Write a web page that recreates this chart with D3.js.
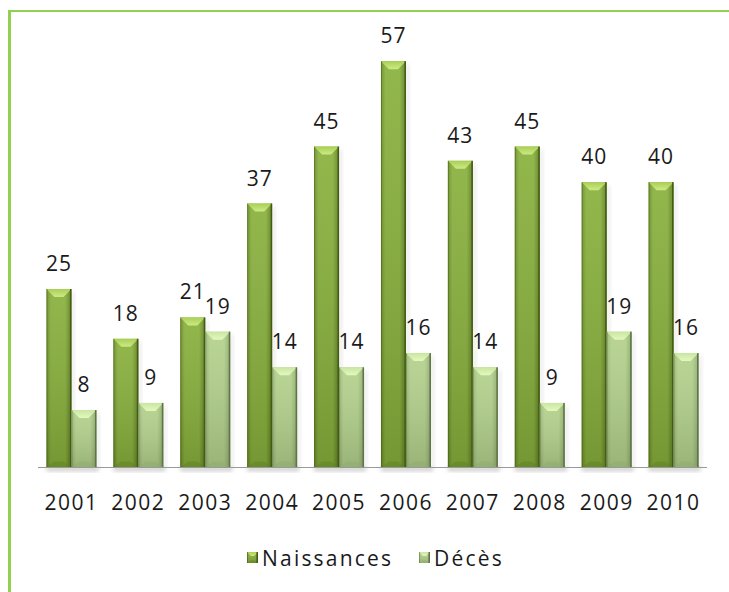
<!DOCTYPE html>
<html>
<head>
<meta charset="utf-8">
<script src="https://cdn.jsdelivr.net/npm/d3@7/dist/d3.min.js"></script>
<style>
  html, body { margin: 0; padding: 0; background: #fff; }
  svg { display: block; }
  text { font-family: "Open Sans", "DejaVu Sans", sans-serif; fill: #1a1a1a; }
</style>
</head>
<body>
<svg id="chart" width="729" height="592"></svg>
<script>
// Naissances et décès par année
const years = ["2001", "2002", "2003", "2004", "2005", "2006", "2007", "2008", "2009", "2010"];
const naissances = [25, 18, 21, 37, 45, 57, 43, 45, 40, 40];
const deces = [8, 9, 19, 14, 14, 16, 14, 9, 19, 16];
const seriesNames = ["Naissances", "Décès"];

const svg = d3.select("#chart");
const W = 729, H = 592;

// Green frame (left and top edges)
svg.append("rect").attr("x", 8).attr("y", 10).attr("width", 3).attr("height", H - 10).attr("fill", "#92d050");
svg.append("rect").attr("x", 8).attr("y", 10).attr("width", W - 8).attr("height", 2).attr("fill", "#92d050");

const baseY = 467;
const x0 = d3.scaleBand().domain(years).range([38, 707]).paddingInner(0.253).paddingOuter(0.1265);
const x1 = d3.scaleBand().domain(seriesNames).range([0, x0.bandwidth()]);
const y = d3.scaleLinear().domain([0, 60]).range([baseY, baseY - 60 * 7.12]);

const defs = svg.append("defs");
const palettes = {
  "Naissances": { left: "#6a8c26", mid: "#88b03c", right: "#5e7d20", topA: "#a9cf55", topB: "#cdea85", bot: "#5f7f22", edge: "#435c12" },
  "Décès":      { left: "#98b674", mid: "#b3d18c", right: "#8eab6c", topA: "#c9e6a0", topB: "#e4f7c0", bot: "#8fac6d", edge: "#5f7448" }
};
Object.entries(palettes).forEach(([name, p], i) => {
  const g = defs.append("linearGradient").attr("id", "body" + i).attr("x1", 0).attr("x2", 1).attr("y1", 0).attr("y2", 0);
  g.append("stop").attr("offset", "0%").attr("stop-color", p.left);
  g.append("stop").attr("offset", "18%").attr("stop-color", p.mid);
  g.append("stop").attr("offset", "75%").attr("stop-color", p.mid);
  g.append("stop").attr("offset", "100%").attr("stop-color", p.right);
  const t = defs.append("linearGradient").attr("id", "top" + i).attr("x1", 0).attr("x2", 0).attr("y1", 0).attr("y2", 1);
  t.append("stop").attr("offset", "0%").attr("stop-color", p.topA);
  t.append("stop").attr("offset", "100%").attr("stop-color", p.topB);
});
// vertical shading: brighter near the top, darker toward the base
const shade = defs.append("linearGradient").attr("id", "shade").attr("x1", 0).attr("x2", 0).attr("y1", 0).attr("y2", 1);
shade.append("stop").attr("offset", "0%").attr("stop-color", "#fff").attr("stop-opacity", 0.08);
shade.append("stop").attr("offset", "100%").attr("stop-color", "#000").attr("stop-opacity", 0.14);
defs.append("filter").attr("id", "soft").attr("x", "-50%").attr("y", "-50%").attr("width", "200%").attr("height", "200%")
  .append("feGaussianBlur").attr("stdDeviation", 2);

// Draw a bevelled column
function bevelBar(g, bx, by, bw, bh, idx, d) {
  const p = palettes[seriesNames[idx]];
  g.append("rect").attr("x", bx).attr("y", by).attr("width", bw).attr("height", bh).attr("fill", `url(#body${idx})`);
  g.append("rect").attr("x", bx).attr("y", by).attr("width", bw).attr("height", bh).attr("fill", "url(#shade)");
  const dd = Math.min(d, bh / 2);
  g.append("path")
    .attr("d", `M${bx},${by}L${bx + bw},${by}L${bx + bw - dd},${by + dd}L${bx + dd},${by + dd}Z`)
    .attr("fill", `url(#top${idx})`);
  g.append("path")
    .attr("d", `M${bx},${by + bh}L${bx + bw},${by + bh}L${bx + bw - dd},${by + bh - dd * 0.7}L${bx + dd},${by + bh - dd * 0.7}Z`)
    .attr("fill", p.bot).attr("opacity", 0.5);
  g.append("rect").attr("x", bx + bw - 1.5).attr("y", by).attr("width", 1.5).attr("height", bh).attr("fill", p.edge);
  g.append("rect").attr("x", bx).attr("y", by).attr("width", 1).attr("height", bh).attr("fill", p.edge).attr("opacity", 0.5);
}

const groups = svg.append("g").selectAll("g").data(years).join("g")
  .attr("transform", d => `translate(${x0(d)},0)`);

// Soft shadow under each group
groups.append("rect")
  .attr("x", 0).attr("y", baseY).attr("width", x0.bandwidth() + 2).attr("height", 4)
  .attr("fill", "#9a9a9a").attr("opacity", 0.55).attr("filter", "url(#soft)");

groups.each(function (yr, i) {
  const g = d3.select(this);
  [naissances[i], deces[i]].forEach((v, k) => {
    const bx = x1(seriesNames[k]);
    const bw = x1.bandwidth();
    const top = y(v);
    // light shadow to the right
    g.append("rect").attr("x", bx + bw).attr("y", top + 3).attr("width", 3).attr("height", baseY - top - 3)
      .attr("fill", "#bbb").attr("opacity", 0.35).attr("filter", "url(#soft)");
    bevelBar(g, bx, top, bw, baseY - top, k, 8);
  });
});

// Values above each column
groups.each(function (yr, i) {
  const g = d3.select(this);
  [naissances[i], deces[i]].forEach((v, k) => {
    g.append("text")
      .attr("x", x1(seriesNames[k]) + x1.bandwidth() / 2)
      .attr("y", y(v) - 18)
      .attr("text-anchor", "middle")
      .attr("font-size", 21).attr("letter-spacing", 1)
      .text(v);
  });
});

// Category axis
const axis = d3.axisBottom(x0).tickSize(0).tickPadding(0);
const ax = svg.append("g").attr("transform", `translate(0,${baseY})`).call(axis);
ax.select(".domain").attr("stroke", "#999").attr("stroke-width", 1.2).attr("d", "M38,0.5H707");
ax.selectAll(".tick text")
  .attr("y", 43).attr("dy", 0)
  .attr("font-size", 21).attr("letter-spacing", 1.5)
  .attr("font-family", "Open Sans, DejaVu Sans, sans-serif")
  .attr("fill", "#1a1a1a");

// Legend
const legend = svg.append("g");
const legendItems = [{ name: "Naissances", x: 247 }, { name: "Décès", x: 419 }];
legendItems.forEach((it, k) => {
  bevelBar(legend, it.x, 552, 11, 11, k, 4);
  legend.append("text").attr("x", it.x + 15).attr("y", 566)
    .attr("font-size", 21).attr("letter-spacing", 2.2)
    .text(it.name);
});
</script>
</body>
</html>
